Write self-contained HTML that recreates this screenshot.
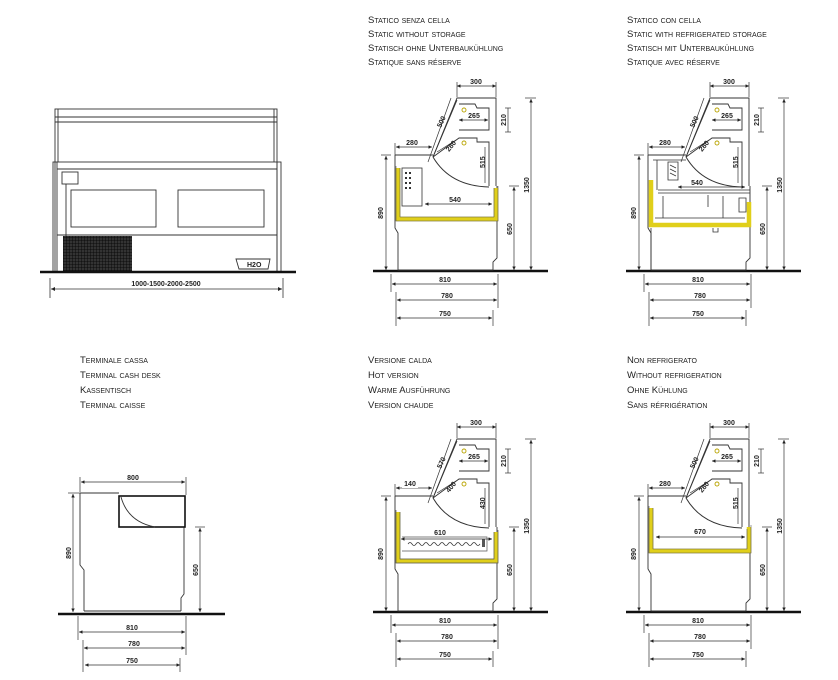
<!DOCTYPE html>
<html><head><meta charset="utf-8">
<style>
html,body{margin:0;padding:0;background:#fff;}
svg{display:block;}
.t{font-family:"Liberation Sans",sans-serif;font-variant:small-caps;font-size:9.5px;fill:#222;}
.d{font-family:"Liberation Sans",sans-serif;font-size:7px;font-weight:bold;fill:#222;}
</style></head><body>
<svg width="838" height="680" viewBox="0 0 838 680" xmlns="http://www.w3.org/2000/svg">
<defs>
<marker id="a" viewBox="0 0 6 6" refX="6" refY="3" markerWidth="5" markerHeight="5" orient="auto-start-reverse"><path d="M0,0L6,3L0,6z" fill="#222"/></marker>
<pattern id="g" width="3" height="3" patternUnits="userSpaceOnUse"><rect width="3" height="3" fill="#333"/><path d="M0,0H3M0,0V3" stroke="#000" stroke-width="0.8"/></pattern>
<g id="sec" fill="none" stroke="#333" stroke-width="0.9">
  <line x1="373" y1="271" x2="548" y2="271" stroke="#111" stroke-width="2.5"/>
  <path d="M395,155 L395,228 L398,233 L398,270 L493,270 L493,262 L497,258 L497,186"/>
  <path d="M395,155 L433,155"/>
  <path d="M433,157 L457,98 L496,98 L496,186"/>
  <path d="M459,104 L475,104 L477,108 L489,108 L489,130 L459,130"/>
  <path d="M457,100 L433,157"/>
  <path d="M433,157 L459,138 L477,138 L477,142 L489,142 L489,186"/>
  <path d="M433,157 Q450,186 489,187" stroke-width="1"/>
  <circle cx="464" cy="110" r="2" stroke="#b9a400"/>
  <circle cx="464" cy="143" r="2" stroke="#b9a400"/>
</g>
</defs>

<!-- Front elevation -->
<g fill="none" stroke="#333" stroke-width="0.9">
  <rect x="55" y="109" width="222" height="163"/>
  <line x1="55" y1="117" x2="277" y2="117"/>
  <line x1="55" y1="122" x2="277" y2="122"/>
  <line x1="58" y1="109" x2="58" y2="162"/>
  <line x1="274" y1="109" x2="274" y2="162"/>
  <rect x="53" y="162" width="228" height="110"/>
  <line x1="57" y1="162" x2="57" y2="272"/>
  <line x1="277" y1="162" x2="277" y2="272"/>
  <line x1="57" y1="169" x2="277" y2="169"/>
  <rect x="71" y="190" width="85" height="37"/>
  <rect x="178" y="190" width="86" height="37"/>
  <line x1="57" y1="235" x2="277" y2="235"/>
  <rect x="62" y="172" width="16" height="12"/>
  <line x1="66" y1="184" x2="66" y2="240"/>
  <path d="M236,259 L270,259 L268,269 L239,269 Z"/>
</g>
<rect x="63" y="236" width="69" height="35" fill="url(#g)"/>
<text x="247" y="267" class="d" font-weight="normal" font-size="8">H2O</text>
<line x1="40" y1="272" x2="296" y2="272" stroke="#111" stroke-width="2.5"/>
<line x1="50" y1="278" x2="50" y2="298" stroke="#333" stroke-width="0.8"/>
<line x1="283" y1="278" x2="283" y2="298" stroke="#333" stroke-width="0.8"/>
<line x1="51" y1="289" x2="282" y2="289" stroke="#333" stroke-width="0.8" marker-start="url(#a)" marker-end="url(#a)"/>
<text x="166" y="286" class="d" text-anchor="middle" font-weight="normal">1000-1500-2000-2500</text>

<!-- Titles -->
<g class="t">
<text x="368" y="23">Statico senza cella</text>
<text x="368" y="37">Static without  storage</text>
<text x="368" y="51">Statisch ohne Unterbaukühlung</text>
<text x="368" y="65">Statique sans réserve</text>
<text x="627" y="23">Statico con cella</text>
<text x="627" y="37">Static with refrigerated storage</text>
<text x="627" y="51">Statisch mit Unterbaukühlung</text>
<text x="627" y="65">Statique avec réserve</text>
<text x="80" y="363">Terminale cassa</text>
<text x="80" y="378">Terminal cash desk</text>
<text x="80" y="393">Kassentisch</text>
<text x="80" y="408">Terminal caisse</text>
<text x="368" y="363">Versione calda</text>
<text x="368" y="378">Hot version</text>
<text x="368" y="393">Warme Ausführung</text>
<text x="368" y="408">Version chaude</text>
<text x="627" y="363">Non refrigerato</text>
<text x="627" y="378">Without refrigeration</text>
<text x="627" y="393">Ohne Kühlung</text>
<text x="627" y="408">Sans réfrigération</text>
</g>

<!-- Cross sections -->
<g id="p1">
<use href="#sec"/>
<path d="M398,168 L398,219 L496,219 L496,188" fill="none" stroke="#e0cf1a" stroke-width="4.5"/>
<path d="M396,166 L396,221 L498,221 L498,186 M400,168 L400,217 L494,217 L494,188" fill="none" stroke="#555" stroke-width="0.6"/>
<rect x="402" y="168" width="20" height="38" fill="none" stroke="#333" stroke-width="0.8"/>
<g fill="#333"><rect x="405" y="172" width="2" height="2"/><rect x="409" y="172" width="2" height="2"/><rect x="405" y="177" width="2" height="2"/><rect x="409" y="177" width="2" height="2"/><rect x="405" y="182" width="2" height="2"/><rect x="409" y="182" width="2" height="2"/><rect x="405" y="187" width="2" height="2"/><rect x="409" y="187" width="2" height="2"/></g>
</g>

<g transform="translate(253,0)">
<use href="#sec"/>
<path d="M398,180 L398,225 L496,225 L496,202" fill="none" stroke="#e0cf1a" stroke-width="4.5"/>
<path d="M400,160 L433,160 M404,160 L404,190 M415,162 L425,162 L425,180 L415,180 Z M405,190 L497,190 M405,193 L497,193 M410,196 L410,218 M470,196 L470,218 M455,195 L455,207 M486,198 L493,198 L493,212 L486,212 Z M460,228 L460,232 L465,232 L465,228 M402,218 L492,218 M398,228 L398,270" fill="none" stroke="#333" stroke-width="0.8"/>
<path d="M417,165 L423,168 M417,169 L423,172 M417,173 L423,176" stroke="#333" stroke-width="0.8"/>
</g>

<g transform="translate(0,341)">
<use href="#sec"/>
<path d="M398,171 L398,220 L496,220 L496,191" fill="none" stroke="#e0cf1a" stroke-width="4.5"/>
<path d="M396,169 L396,222 L498,222 L498,189 M400,171 L400,218 L494,218 L494,191 M402,196 L487,196 L487,210 L402,210" fill="none" stroke="#555" stroke-width="0.7"/>
<path d="M408,203 q2,-3 4,0 t4,0 t4,0 t4,0 t4,0 t4,0 t4,0 t4,0 t4,0 t4,0 t4,0 t4,0 t4,0 t4,0 t4,0 t4,0 t4,0 t4,0" fill="none" stroke="#333" stroke-width="0.7"/>
<rect x="482" y="198" width="3" height="8" fill="#555"/>
</g>

<g transform="translate(253,341)">
<use href="#sec"/>
<path d="M398,167 L398,210 L496,210 L496,186" fill="none" stroke="#e0cf1a" stroke-width="4.5"/>
<path d="M396,165 L396,212 L498,212 L498,184 M400,167 L400,208 L494,208 L494,188" fill="none" stroke="#555" stroke-width="0.6"/>
</g>

<g stroke="#333" stroke-width="0.7">
  <g id="dm">
  <line x1="457" y1="86" x2="496" y2="86" marker-start="url(#a)" marker-end="url(#a)"/>
  <line x1="457" y1="82" x2="457" y2="97"/><line x1="496" y1="82" x2="496" y2="97"/>
  <line x1="531" y1="99" x2="531" y2="270" marker-start="url(#a)" marker-end="url(#a)"/>
  <line x1="525" y1="98" x2="536" y2="98"/>
  <line x1="514" y1="187" x2="514" y2="270" marker-start="url(#a)" marker-end="url(#a)"/>
  <line x1="509" y1="186" x2="519" y2="186"/>
  <line x1="386" y1="156" x2="386" y2="270" marker-start="url(#a)" marker-end="url(#a)"/>
  <line x1="381" y1="155" x2="391" y2="155"/>
  <line x1="508" y1="108" x2="508" y2="132"/><line x1="505" y1="108" x2="511" y2="108"/><line x1="505" y1="132" x2="511" y2="132"/>
  <line x1="396" y1="147" x2="432" y2="147" marker-start="url(#a)" marker-end="url(#a)"/>
  <line x1="395" y1="143" x2="395" y2="155"/>
  <line x1="459" y1="120" x2="488" y2="120" marker-start="url(#a)" marker-end="url(#a)"/>
  <line x1="392" y1="284" x2="497" y2="284" marker-start="url(#a)" marker-end="url(#a)"/>
  <line x1="397" y1="300" x2="497" y2="300" marker-start="url(#a)" marker-end="url(#a)"/>
  <line x1="397" y1="318" x2="492" y2="318" marker-start="url(#a)" marker-end="url(#a)"/>
  <line x1="391" y1="274" x2="391" y2="292"/><line x1="498" y1="274" x2="498" y2="308"/>
  <line x1="396" y1="292" x2="396" y2="326"/><line x1="493" y1="310" x2="493" y2="326"/>
  <line x1="428" y1="162" x2="451" y2="98"/>
  <line x1="437" y1="152" x2="456" y2="140"/>
  </g>
  <use href="#dm" transform="translate(253,0)"/>
  <use href="#dm" transform="translate(0,341)"/>
  <use href="#dm" transform="translate(253,341)"/>
  <line x1="425" y1="204" x2="492" y2="204" marker-start="url(#a)" marker-end="url(#a)"/>
  <line x1="678" y1="187" x2="745" y2="187" marker-start="url(#a)" marker-end="url(#a)"/>
  <line x1="401" y1="539" x2="492" y2="539" marker-start="url(#a)" marker-end="url(#a)"/>
  <line x1="656" y1="537" x2="745" y2="537" marker-start="url(#a)" marker-end="url(#a)"/>
  <line x1="485" y1="147" x2="485" y2="183"/>
  <line x1="738" y1="147" x2="738" y2="183"/>
  <line x1="485" y1="488" x2="485" y2="524"/>
  <line x1="738" y1="488" x2="738" y2="524"/>
</g>

<g class="d">
 <g id="dt">
 <text x="476" y="84" text-anchor="middle">300</text>
 <text x="474" y="118" text-anchor="middle">265</text>
 <text x="412" y="145" text-anchor="middle">280</text>
 <text transform="translate(383,213) rotate(-90)" text-anchor="middle">890</text>
 <text transform="translate(529,185) rotate(-90)" text-anchor="middle">1350</text>
 <text transform="translate(512,229) rotate(-90)" text-anchor="middle">650</text>
 <text transform="translate(506,120) rotate(-90)" text-anchor="middle">210</text>
 <text x="445" y="282" text-anchor="middle">810</text>
 <text x="447" y="298" text-anchor="middle">780</text>
 <text x="445" y="316" text-anchor="middle">750</text>
 </g>
 <g transform="translate(253,0)"><use href="#dt"/></g>
 <g transform="translate(0,341)"><use href="#dt"/></g>
 <g transform="translate(253,341)"><use href="#dt"/></g>
 <text transform="translate(441,128) rotate(-65)">500</text>
 <text transform="translate(449,152) rotate(-50)">280</text>
 <text transform="translate(485,168) rotate(-90)">515</text>
 <text x="455" y="202" text-anchor="middle">540</text>
 <text transform="translate(694,128) rotate(-65)">500</text>
 <text transform="translate(702,152) rotate(-50)">280</text>
 <text transform="translate(738,168) rotate(-90)">515</text>
 <text x="697" y="185" text-anchor="middle">540</text>
 <text transform="translate(441,469) rotate(-65)">570</text>
 <text transform="translate(449,493) rotate(-50)">400</text>
 <text transform="translate(485,509) rotate(-90)">430</text>
 <text x="440" y="535" text-anchor="middle">610</text>
 <text transform="translate(694,469) rotate(-65)">500</text>
 <text transform="translate(702,493) rotate(-50)">280</text>
 <text transform="translate(738,509) rotate(-90)">515</text>
 <text x="700" y="534" text-anchor="middle">670</text>
</g>
<rect x="402" y="480" width="16" height="8" fill="#fff"/>
<text x="410" y="486" class="d" text-anchor="middle">140</text>

<!-- Terminal -->
<g fill="none" stroke="#333" stroke-width="0.9">
  <path d="M80,493 L119,493 M80,493 L80,565 L84,570 L84,611 M184,527 L184,594 L181,598 L181,611"/>
  <rect x="119" y="496" width="66" height="31" stroke="#111" stroke-width="1.6"/>
  <path d="M121,497 Q128,522 155,527"/>
  <line x1="84" y1="611" x2="181" y2="611"/>
</g>
<line x1="58" y1="614" x2="225" y2="614" stroke="#111" stroke-width="2.5"/>
<g stroke="#333" stroke-width="0.7">
  <line x1="81" y1="482" x2="185" y2="482" marker-start="url(#a)" marker-end="url(#a)"/>
  <line x1="80" y1="477" x2="80" y2="492"/><line x1="186" y1="477" x2="186" y2="495"/>
  <line x1="73" y1="494" x2="73" y2="612" marker-start="url(#a)" marker-end="url(#a)"/>
  <line x1="68" y1="493" x2="80" y2="493"/>
  <line x1="200" y1="528" x2="200" y2="612" marker-start="url(#a)" marker-end="url(#a)"/>
  <line x1="195" y1="527" x2="205" y2="527"/>
  <line x1="79" y1="632" x2="185" y2="632" marker-start="url(#a)" marker-end="url(#a)"/>
  <line x1="84" y1="648" x2="185" y2="648" marker-start="url(#a)" marker-end="url(#a)"/>
  <line x1="85" y1="665" x2="180" y2="665" marker-start="url(#a)" marker-end="url(#a)"/>
  <line x1="78" y1="616" x2="78" y2="640"/><line x1="186" y1="616" x2="186" y2="655"/>
  <line x1="83" y1="640" x2="83" y2="672"/><line x1="180" y1="658" x2="180" y2="672"/>
</g>
<g class="d">
  <text x="133" y="480" text-anchor="middle">800</text>
  <text transform="translate(71,553) rotate(-90)" text-anchor="middle">890</text>
  <text transform="translate(198,570) rotate(-90)" text-anchor="middle">650</text>
  <text x="132" y="630" text-anchor="middle">810</text>
  <text x="134" y="646" text-anchor="middle">780</text>
  <text x="132" y="663" text-anchor="middle">750</text>
</g>
</svg>
</body></html>
